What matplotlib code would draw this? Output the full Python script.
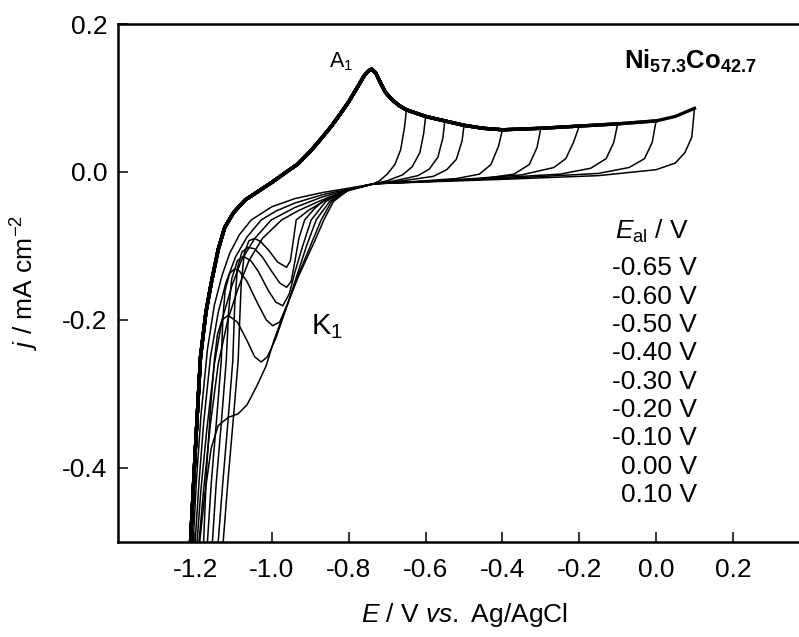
import matplotlib
matplotlib.use("Agg")
import matplotlib.pyplot as plt

plt.rcParams['font.family'] = ['Liberation Sans', 'DejaVu Sans']
plt.rcParams['mathtext.fontset'] = 'custom'
plt.rcParams['mathtext.rm'] = 'Liberation Sans'
plt.rcParams['mathtext.it'] = 'Liberation Sans:italic'
plt.rcParams['mathtext.bf'] = 'Liberation Sans:bold'
plt.rcParams['axes.unicode_minus'] = False

# anodic limits of the 10 cycles (V)
E_al = [-0.65, -0.60, -0.55, -0.50, -0.40, -0.30, -0.20, -0.10, 0.00, 0.10]
legend_labels = ['-0.65 V', '-0.60 V', '-0.50 V', '-0.40 V', '-0.30 V',
                 '-0.20 V', '-0.10 V', '0.00 V', '0.10 V']
x_ticks = [-1.2, -1.0, -0.8, -0.6, -0.4, -0.2, 0.0, 0.2]
x_ticklabels = ['-1.2', '-1.0', '-0.8', '-0.6', '-0.4', '-0.2', '0.0', '0.2']
y_ticks = [-0.4, -0.2, 0.0, 0.2]
y_ticklabels = ['-0.4', '-0.2', '0.0', '0.2']

# shared anodic sweep (E / V, j / mA cm-2)
anodic = [(-1.212, -0.50), (-1.200, -0.38), (-1.186, -0.25), (-1.172, -0.19),
          (-1.158, -0.15), (-1.140, -0.105), (-1.123, -0.075), (-1.100, -0.055),
          (-1.070, -0.038), (-1.035, -0.026), (-1.000, -0.014), (-0.965, -0.001),
          (-0.932, 0.011), (-0.898, 0.029), (-0.872, 0.045), (-0.845, 0.062),
          (-0.820, 0.080), (-0.800, 0.095), (-0.777, 0.115), (-0.760, 0.130),
          (-0.748, 0.137), (-0.740, 0.139), (-0.730, 0.134), (-0.718, 0.121),
          (-0.705, 0.108), (-0.690, 0.099), (-0.670, 0.090), (-0.650, 0.084),
          (-0.600, 0.075), (-0.550, 0.069), (-0.500, 0.063), (-0.450, 0.059),
          (-0.400, 0.057), (-0.300, 0.059), (-0.200, 0.062), (-0.100, 0.065),
          (0.000, 0.069), (0.050, 0.075), (0.100, 0.086)]

# cathodic sweeps after reversal at each E_al
cath_m065 = [(-0.655, 0.060), (-0.665, 0.030), (-0.68, 0.010), (-0.70, -0.003), (-0.72, -0.012),
             (-0.735, -0.016), (-0.80, -0.022), (-0.87, -0.028), (-0.94, -0.036), (-1.00, -0.047),
             (-1.054, -0.065), (-1.085, -0.085), (-1.11, -0.11), (-1.13, -0.14), (-1.15, -0.18),
             (-1.168, -0.24), (-1.185, -0.33), (-1.197, -0.42), (-1.205, -0.50)]
cath_m060 = [(-0.605, 0.052), (-0.615, 0.026), (-0.635, 0.007), (-0.66, -0.004), (-0.70, -0.012),
             (-0.735, -0.016), (-0.80, -0.023), (-0.87, -0.031), (-0.94, -0.042), (-0.99, -0.053),
             (-1.028, -0.065), (-1.065, -0.088), (-1.095, -0.115), (-1.12, -0.15), (-1.14, -0.19),
             (-1.16, -0.25), (-1.178, -0.34), (-1.19, -0.42), (-1.20, -0.50)]
cath_m055 = [(-0.555, 0.046), (-0.568, 0.020), (-0.59, 0.004), (-0.62, -0.005), (-0.68, -0.012),
             (-0.735, -0.016), (-0.80, -0.024), (-0.87, -0.034), (-0.94, -0.048), (-1.002, -0.065),
             (-1.045, -0.09), (-1.08, -0.12), (-1.105, -0.155), (-1.13, -0.20), (-1.15, -0.26),
             (-1.17, -0.35), (-1.185, -0.43), (-1.195, -0.50)]
cath_m050 = [(-0.505, 0.042), (-0.52, 0.017), (-0.545, 0.003), (-0.58, -0.006), (-0.66, -0.012),
             (-0.735, -0.016), (-0.80, -0.025), (-0.87, -0.038), (-0.93, -0.052), (-0.975, -0.065),
             (-1.025, -0.09), (-1.06, -0.12), (-1.09, -0.16), (-1.115, -0.20), (-1.14, -0.26),
             (-1.16, -0.34), (-1.178, -0.43), (-1.19, -0.50)]
cath_m040 = [(-0.41, 0.035), (-0.43, 0.010), (-0.46, -0.003), (-0.52, -0.009), (-0.63, -0.013),
             (-0.735, -0.016), (-0.80, -0.025), (-0.86, -0.038), (-0.905, -0.052), (-0.937, -0.065),
             (-0.945, -0.095), (-0.952, -0.120), (-0.962, -0.129), (-0.985, -0.122), (-1.01, -0.105),
             (-1.03, -0.094), (-1.045, -0.090), (-1.06, -0.093), (-1.072, -0.11), (-1.08, -0.15),
             (-1.084, -0.20), (-1.088, -0.255), (-1.10, -0.33), (-1.115, -0.42), (-1.127, -0.50)]
cath_m030 = [(-0.31, 0.033), (-0.33, 0.010), (-0.37, -0.003), (-0.45, -0.009), (-0.60, -0.013),
             (-0.735, -0.016), (-0.80, -0.024), (-0.86, -0.036), (-0.89, -0.05), (-0.915, -0.065),
             (-0.93, -0.09), (-0.94, -0.12), (-0.95, -0.148), (-0.962, -0.156), (-0.98, -0.150),
             (-1.00, -0.135), (-1.025, -0.115), (-1.045, -0.104), (-1.062, -0.102), (-1.078, -0.108),
             (-1.09, -0.13), (-1.097, -0.18), (-1.102, -0.255), (-1.115, -0.34), (-1.128, -0.42),
             (-1.14, -0.50)]
cath_m020 = [(-0.215, 0.040), (-0.235, 0.018), (-0.266, 0.006), (-0.35, -0.004), (-0.50, -0.010),
             (-0.735, -0.016), (-0.80, -0.024), (-0.86, -0.040), (-0.898, -0.065), (-0.92, -0.10),
             (-0.94, -0.135), (-0.955, -0.165), (-0.972, -0.181), (-0.99, -0.176), (-1.01, -0.16),
             (-1.035, -0.135), (-1.055, -0.12), (-1.075, -0.114), (-1.09, -0.12), (-1.105, -0.145),
             (-1.113, -0.19), (-1.119, -0.255), (-1.132, -0.34), (-1.145, -0.42), (-1.155, -0.50)]
cath_m010 = [(-0.11, 0.040), (-0.13, 0.018), (-0.17, 0.005), (-0.25, -0.003), (-0.45, -0.009),
             (-0.735, -0.016), (-0.80, -0.024), (-0.85, -0.040), (-0.885, -0.065), (-0.91, -0.10),
             (-0.935, -0.14), (-0.96, -0.18), (-0.98, -0.203), (-0.998, -0.208), (-1.015, -0.20),
             (-1.04, -0.175), (-1.065, -0.148), (-1.085, -0.134), (-1.097, -0.131), (-1.11, -0.137),
             (-1.122, -0.16), (-1.128, -0.20), (-1.132, -0.255), (-1.145, -0.34), (-1.158, -0.42),
             (-1.168, -0.50)]
cath_p000 = [(-0.01, 0.040), (-0.03, 0.018), (-0.07, 0.006), (-0.15, -0.002), (-0.40, -0.009),
             (-0.735, -0.016), (-0.80, -0.024), (-0.845, -0.040), (-0.872, -0.065), (-0.90, -0.10),
             (-0.932, -0.14), (-0.96, -0.18), (-0.99, -0.225), (-1.012, -0.250), (-1.028, -0.257),
             (-1.045, -0.25), (-1.065, -0.228), (-1.09, -0.203), (-1.114, -0.194), (-1.13, -0.20),
             (-1.142, -0.22), (-1.15, -0.255), (-1.16, -0.32), (-1.17, -0.40), (-1.178, -0.50)]
cath_p010 = [(0.093, 0.047), (0.075, 0.026), (0.05, 0.012), (0.0, 0.003), (-0.15, -0.005),
             (-0.40, -0.010), (-0.735, -0.016), (-0.80, -0.024), (-0.84, -0.040), (-0.865, -0.065),
             (-0.89, -0.095), (-0.93, -0.14), (-0.965, -0.185), (-0.995, -0.228), (-1.015, -0.262),
             (-1.04, -0.29), (-1.065, -0.315), (-1.088, -0.327), (-1.114, -0.332), (-1.14, -0.343),
             (-1.158, -0.373), (-1.175, -0.436), (-1.188, -0.50)]
cathodic = [cath_m065, cath_m060, cath_m055, cath_m050, cath_m040,
            cath_m030, cath_m020, cath_m010, cath_p000, cath_p010]

fig = plt.figure(figsize=(7.99, 6.37), dpi=100)
ax = fig.add_axes([0.1481, 0.1496, 0.8653, 0.8127])

for lim, cath in zip(E_al, cathodic):
    an = [p for p in anodic if p[0] <= lim + 1e-9]
    ax.plot([p[0] for p in an], [p[1] for p in an], color='black', lw=2.4,
            solid_joinstyle='round')
    cE = [an[-1][0]] + [p[0] for p in cath]
    cj = [an[-1][1]] + [p[1] for p in cath]
    ax.plot(cE, cj, color='black', lw=1.1, solid_joinstyle='round')

ax.set_xlim(-1.4, 0.4)
ax.set_ylim(-0.5, 0.2)
ax.set_xticks(x_ticks)
ax.set_xticklabels(x_ticklabels)
ax.set_yticks(y_ticks)
ax.set_yticklabels(y_ticklabels)
ax.tick_params(direction='in', length=7.5, width=1.1, labelsize=19)
ax.tick_params(axis='x', pad=12)
ax.tick_params(axis='y', pad=8)
for s in ax.spines.values():
    s.set_linewidth(1.8)

ax.set_xlabel(r'$E$ / V $vs.$ Ag/AgCl', fontsize=19)
ax.set_ylabel(r'$j$ / mA cm$^{-2}$', fontsize=19)
ax.xaxis.set_label_coords(0.5, -0.115)
ax.yaxis.set_label_coords(-0.112, 0.5)

ax.text(-0.852, 0.142, r'A$_1$', fontsize=15.5)
ax.text(-0.898, -0.219, r'K$_1$', fontsize=21)
ax.text(-0.084, 0.140, r'$\mathbf{Ni_{57.3}Co_{42.7}}$', fontsize=18.5)
ax.text(-0.106, -0.0902, r'$E_{\rm al}$ / V', fontsize=19)
for i, lab in enumerate(legend_labels):
    ax.text(0.1065, -0.1398 - i * 0.0383, lab, fontsize=19, ha='right', va='baseline')

fig.savefig('out.png', dpi=100)
